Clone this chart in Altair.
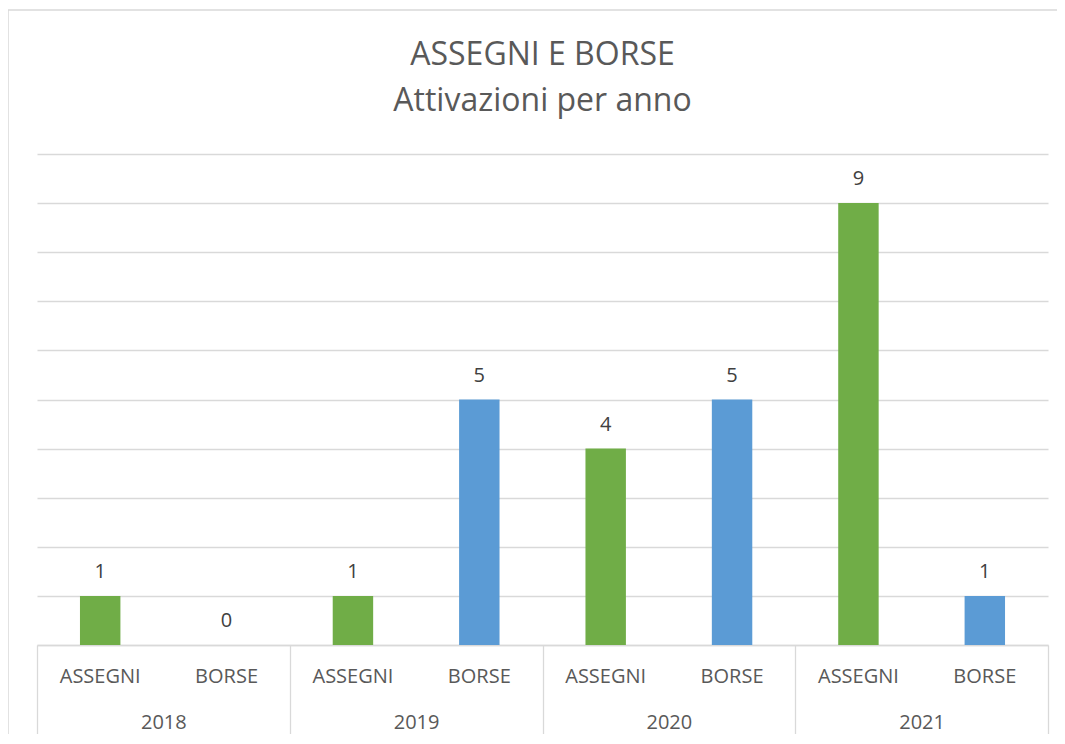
import altair as alt
import pandas as pd

years = ["2018", "2019", "2020", "2021"]
types = ["ASSEGNI", "BORSE"]
assegni = [1, 1, 4, 9]
borse = [0, 5, 5, 1]
colors = ["#70AD47", "#5B9BD5"]

rows = []
for i, y in enumerate(years):
    rows.append({"anno": y, "tipo": "ASSEGNI", "valore": assegni[i]})
    rows.append({"anno": y, "tipo": "BORSE", "valore": borse[i]})
df = pd.DataFrame(rows)

W, H = 1011, 491
PAD_L, PAD_T = 29, 146
TOTAL_W, TOTAL_H = 1049, 726
FONT = "Open Sans"
GREY = "#D9D9D9"
TXT = "#595959"

x_enc = alt.X(
    "anno:N",
    sort=years,
    title=None,
    scale=alt.Scale(paddingInner=0, paddingOuter=0),
    axis=alt.Axis(
        labelAngle=0,
        labelFont=FONT,
        labelFontSize=20,
        labelColor=TXT,
        labelPadding=-28,
        labelBaseline="top",
        domain=True,
        domainColor=GREY,
        domainWidth=1.3,
        ticks=True,
        tickBand="extent",
        tickSize=95,
        tickColor=GREY,
        tickWidth=1.3,
        grid=False,
    ),
)
xo_enc = alt.XOffset(
    "tipo:N",
    sort=types,
    scale=alt.Scale(paddingInner=0.68, paddingOuter=0.34),
)
y_enc = alt.Y(
    "valore:Q",
    title=None,
    scale=alt.Scale(domain=[0, 10], nice=False),
    axis=alt.Axis(
        values=list(range(0, 11)),
        labels=False,
        ticks=False,
        domain=False,
        grid=True,
        gridColor=GREY,
        gridWidth=1.3,
    ),
)
color_enc = alt.Color(
    "tipo:N",
    sort=types,
    scale=alt.Scale(domain=types, range=colors),
    legend=None,
)

base = alt.Chart(df)

bars = base.mark_bar().encode(x=x_enc, xOffset=xo_enc, y=y_enc, color=color_enc)

values_text = base.mark_text(
    font=FONT, fontSize=20, color="#404040", baseline="alphabetic", dy=-18
).encode(x=x_enc, xOffset=xo_enc, y=y_enc, text="valore:Q")

type_text = base.mark_text(
    font=FONT, fontSize=20, color=TXT, baseline="middle"
).encode(x=x_enc, xOffset=xo_enc, y=alt.value(H + 32), text="tipo:N")

border = alt.Chart(pd.DataFrame({"k": [0]})).mark_rect(
    fill="transparent", stroke=GREY, strokeWidth=1.5
).encode(
    x=alt.value(-PAD_L),
    x2=alt.value(W + 60),
    y=alt.value(-PAD_T + 2),
    y2=alt.value(H + 200),
)

chart = (
    alt.layer(border, bars, values_text, type_text)
    .properties(
        width=W,
        height=H,
        view=alt.ViewBackground(strokeWidth=0, strokeOpacity=0),
        title=alt.TitleParams(
            text=["ASSEGNI E BORSE", "Attivazioni per anno"],
            font=FONT,
            fontSize=32,
            fontWeight="normal",
            color=TXT,
            lineHeight=46,
            anchor="middle",
            frame="group",
            baseline="alphabetic",
            offset=-134,
        ),
        autosize=alt.AutoSizeParams(type="none"),
        padding={"left": PAD_L, "top": PAD_T, "right": TOTAL_W - PAD_L - W, "bottom": TOTAL_H - PAD_T - H},
    )
    .configure_view(stroke="transparent", strokeWidth=0)
    .configure(background="white")
)

chart.save("out.html", embed_options={"renderer": "svg", "actions": False})
